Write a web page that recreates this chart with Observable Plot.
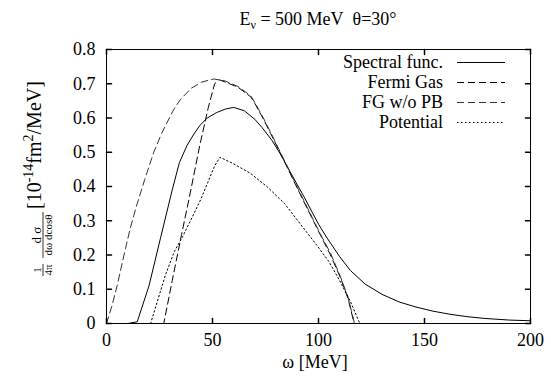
<!DOCTYPE html>
<html><head><meta charset="utf-8">
<script src="https://cdn.jsdelivr.net/npm/d3@7"></script>
<script src="https://cdn.jsdelivr.net/npm/@observablehq/plot@0.6"></script>
<style>
body{margin:0;background:#fff}
svg, svg text{font-family:"Liberation Serif","Times New Roman",Times,Tinos,"Nimbus Roman","Nimbus Roman No9 L",FreeSerif,"Noto Serif","DejaVu Serif",serif}
</style>
</head><body><div id="chart"></div>
<script>
// ---- data ----
const seriesNames = ["Spectral func.", "Fermi Gas", "FG w/o PB", "Potential"];

const spectralW = [0, 10, 14.5, 20, 25.5, 31, 34.4, 38, 41.2, 44, 47.5, 52, 56, 60, 65, 70, 73.4, 78, 82, 86, 90, 93, 97, 100, 104, 110, 115, 122, 130, 138, 146, 154, 162, 170, 178, 190, 200];
const spectralV = [0, 0, 0.005, 0.109, 0.25, 0.39, 0.47, 0.52, 0.553, 0.578, 0.6, 0.616, 0.626, 0.631, 0.621, 0.596, 0.572, 0.535, 0.495, 0.45, 0.405, 0.372, 0.325, 0.29, 0.25, 0.195, 0.155, 0.115, 0.085, 0.063, 0.048, 0.036, 0.027, 0.02, 0.015, 0.01, 0.008];

const fermiW = [0, 27, 31, 35.4, 38.8, 44, 48, 51, 53, 56, 62, 68, 70, 74, 77.4, 83.6, 89.2, 93, 97.8, 101, 105.5, 110.4, 114, 116.8, 200];
const fermiV = [0, 0, 0.125, 0.26, 0.36, 0.52, 0.63, 0.7, 0.712, 0.705, 0.69, 0.662, 0.642, 0.597, 0.555, 0.477, 0.405, 0.357, 0.297, 0.257, 0.202, 0.133, 0.072, 0, 0];

const fgNoPbW = [0, 2.5, 5, 9, 11.3, 14, 18, 22.3, 26, 31.7, 35, 40, 45, 50.6, 56, 62, 68, 70, 74, 77.4, 83.6, 89.2, 93, 97.8, 101, 105.7, 110.4, 114, 117, 200];
const fgNoPbV = [0, 0.05, 0.11, 0.22, 0.28, 0.34, 0.42, 0.5, 0.555, 0.625, 0.655, 0.687, 0.705, 0.714, 0.708, 0.692, 0.665, 0.645, 0.6, 0.558, 0.48, 0.408, 0.36, 0.3, 0.26, 0.205, 0.136, 0.075, 0, 0];

const potentialW = [0, 20.8, 24, 28, 32, 36, 40, 44.3, 48, 51, 53.5, 56, 60, 68, 76, 84, 91.5, 99, 105, 110, 115, 119.5, 200];
const potentialV = [0, 0, 0.065, 0.145, 0.21, 0.255, 0.305, 0.36, 0.415, 0.46, 0.485, 0.478, 0.466, 0.438, 0.398, 0.35, 0.29, 0.23, 0.18, 0.125, 0.065, 0, 0];

const xTicks = [0, 50, 100, 150, 200];
const xTickLabels = ["0", "50", "100", "150", "200"];
const yTicks = [0, 0.1, 0.2, 0.3, 0.4, 0.5, 0.6, 0.7, 0.8];
const yTickLabels = ["0", "0.1", "0.2", "0.3", "0.4", "0.5", "0.6", "0.7", "0.8"];

// ---- styles ----
const FONT = "'Liberation Serif','Times New Roman',Times,Tinos,'Nimbus Roman','Nimbus Roman No9 L',FreeSerif,'Noto Serif','DejaVu Serif',serif";
const lineStyles = {
  "Spectral func.": {stroke: "#000", dash: null},
  "Fermi Gas": {stroke: "#000", dash: "7,4"},
  "FG w/o PB": {stroke: "#333", dash: "7,4"},
  "Potential": {stroke: "#000", dash: "1.5,2.5"}
};

const seriesData = {
  "Spectral func.": spectralW.map((w, i) => ({w, v: spectralV[i]})),
  "Fermi Gas": fermiW.map((w, i) => ({w, v: fermiV[i]})),
  "FG w/o PB": fgNoPbW.map((w, i) => ({w, v: fgNoPbV[i]})),
  "Potential": potentialW.map((w, i) => ({w, v: potentialV[i]}))
};

const tickShape = {draw(ctx, l) { ctx.moveTo(0, 0); ctx.lineTo(0, -l); }};
const TL = 5;

const FS = 18;
const plot = Plot.plot({
  width: 551, height: 381,
  marginTop: 49, marginLeft: 106, marginRight: 21, marginBottom: 58,
  style: `font-family:${FONT};font-size:${FS}px;background:white;color:black;overflow:visible;`,
  x: {domain: [0, 200]},
  y: {domain: [0, 0.8]},
  marks: [
    Plot.axisX({ticks: xTicks, tickSize: 0, tickPadding: 10, label: null, fontSize: FS,
      tickFormat: d => xTickLabels[xTicks.indexOf(d)]}),
    Plot.axisY({ticks: yTicks, tickSize: 0, tickPadding: 11, label: null, fontSize: FS,
      tickFormat: d => yTickLabels[yTicks.indexOf(d)]}),
    ...seriesNames.map(name => Plot.line(seriesData[name], {
      x: "w", y: "v", stroke: lineStyles[name].stroke, strokeWidth: 1,
      strokeDasharray: lineStyles[name].dash
    })),
    Plot.vector(xTicks, {x: d => d, y: 0, length: TL, rotate: 0, anchor: "start", shape: tickShape, stroke: "#000"}),
    Plot.vector(xTicks, {x: d => d, y: 0.8, length: TL, rotate: 180, anchor: "start", shape: tickShape, stroke: "#000"}),
    Plot.vector(yTicks, {x: 0, y: d => d, length: TL, rotate: 90, anchor: "start", shape: tickShape, stroke: "#000"}),
    Plot.vector(yTicks, {x: 200, y: d => d, length: TL, rotate: 270, anchor: "start", shape: tickShape, stroke: "#000"}),
    Plot.frame({stroke: "#000", strokeWidth: 1})
  ]
});

plot.setAttribute("font-family", FONT);
document.getElementById("chart").appendChild(plot);
const svg = d3.select(plot);

function txt(parent, x, y, size, anchor) {
  return parent.append("text").attr("x", x).attr("y", y).attr("font-size", size)
    .attr("text-anchor", anchor).attr("font-family", FONT).attr("fill", "#000");
}

// title
const title = txt(svg, 318, 25, FS, "middle");
title.append("tspan").text("E");
title.append("tspan").attr("font-size", 12).attr("dy", 4).text("ν");
title.append("tspan").attr("dy", -4).text(" = 500 MeV\u00a0\u00a0θ=30°");

// x label
txt(svg, 315, 368, FS, "middle").text("ω [MeV]");

// y label (rotated)
const yl = svg.append("g").attr("transform", "translate(42,277) rotate(-90)");
txt(yl, 7, -1.5, 11, "middle").text("1");
yl.append("line").attr("x1", 1).attr("x2", 13).attr("y1", 1).attr("y2", 1).attr("stroke", "#000").attr("stroke-width", 0.8);
txt(yl, 7, 9.5, 11, "middle").text("4π");
txt(yl, 42, -1.5, 13, "middle").text("d σ");
yl.append("line").attr("x1", 19).attr("x2", 65).attr("y1", 1).attr("y2", 1).attr("stroke", "#000").attr("stroke-width", 0.8);
txt(yl, 42, 9.5, 11, "middle").text("dω dcosθ");
const ym = txt(yl, 68, -1, 20, "start");
ym.append("tspan").text("[10");
ym.append("tspan").attr("font-size", 14).attr("dy", -8).text("-14");
ym.append("tspan").attr("dy", 8).text("fm");
ym.append("tspan").attr("font-size", 14).attr("dy", -8).text("2");
ym.append("tspan").attr("dy", 8).text("/MeV]");

// legend
const legX = 443, sx1 = 457, sx2 = 505;
seriesNames.forEach((name, i) => {
  const by = 68 + i * 20;
  txt(svg, legX, by, FS, "end").text(name);
  svg.append("line").attr("x1", sx1).attr("x2", sx2).attr("y1", by - 5.5).attr("y2", by - 5.5)
    .attr("stroke", lineStyles[name].stroke).attr("stroke-width", 1)
    .attr("stroke-dasharray", lineStyles[name].dash);
});
</script>
</body></html>
